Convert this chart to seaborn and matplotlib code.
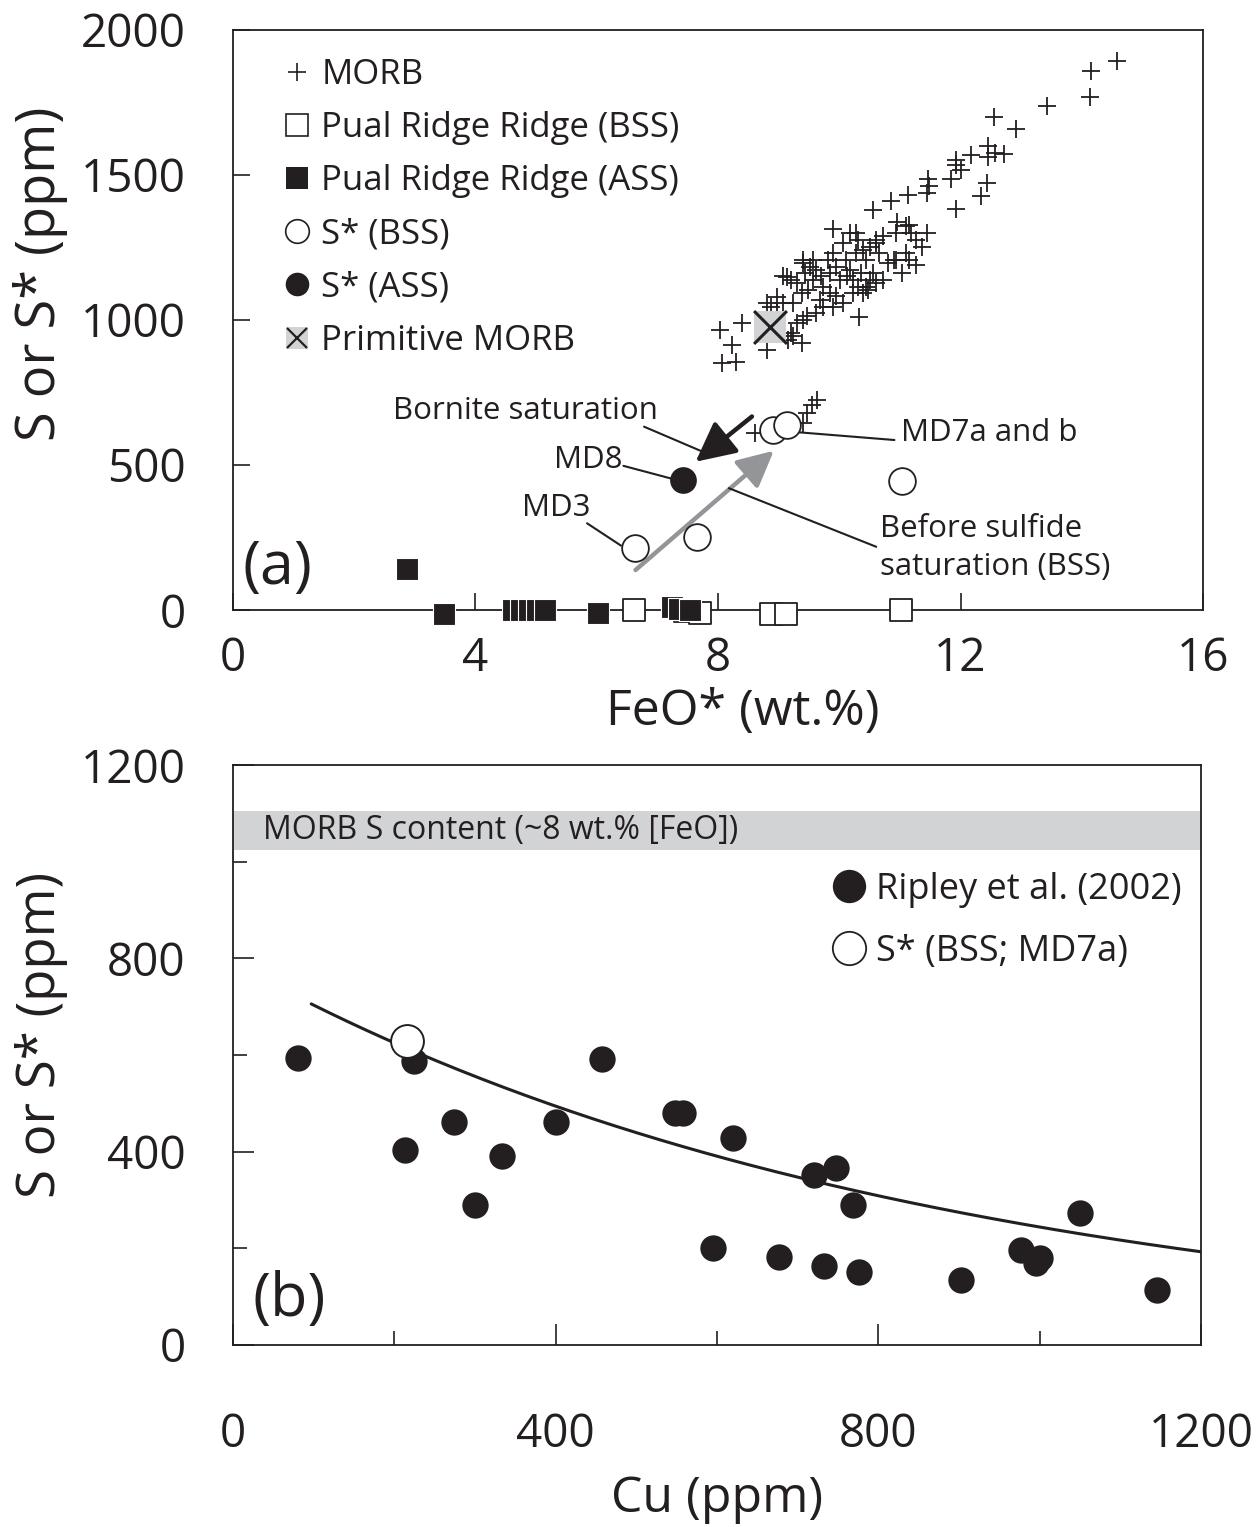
import numpy as np
import pandas as pd
import matplotlib
matplotlib.use('Agg')
import matplotlib.pyplot as plt
import seaborn as sns
from matplotlib.lines import Line2D
from matplotlib.legend_handler import HandlerTuple

sns.set_style('ticks')
plt.rcParams['font.family'] = ['Open Sans', 'DejaVu Sans']

DARK = '#231f20'
GREY = '#d1d3d4'
ARROW_GREY = '#939598'

# ---- panel (a): FeO* vs S ----
morb_feo = [14.58, 14.16, 14.13, 13.43, 12.56, 12.91, 12.46, 12.57, 12.71, 12.45,
            12.17, 11.93, 11.92, 12.00, 11.46, 11.48, 11.84, 12.44, 12.33, 11.93,
            11.44, 11.14, 10.85, 10.55, 9.90, 11.45, 10.28, 10.95, 11.15, 11.37,
            11.26, 11.04, 10.91, 10.61, 10.33, 9.40, 9.13, 8.97, 8.04, 8.23,
            8.07, 8.30, 8.39, 8.80, 9.24, 9.38, 9.40,
            9.08, 9.21, 9.30, 9.43, 9.51, 9.57, 9.62, 9.70, 9.73, 9.81,
            9.84, 9.90, 9.95, 10.01, 10.06, 10.11, 10.17, 10.22, 10.28, 10.31,
            10.36, 10.39, 10.44, 10.50, 10.55, 10.61, 10.66, 10.72, 9.84, 9.68,
            9.73, 9.62, 9.46, 9.30, 9.21, 9.16, 10.06, 9.95, 10.13, 9.49,
            9.38, 9.24, 9.90, 10.39, 10.47, 10.22, 9.57, 9.40, 9.08, 8.80,
            8.88, 8.97, 10.93, 11.10, 11.18, 11.26, 11.10, 10.93, 10.80, 11.15,
            10.17, 10.31, 10.50, 10.61, 10.72, 10.44,
            8.61, 9.40, 9.46, 9.55, 9.63]
morb_s = [1893, 1859, 1767, 1736, 1699, 1657, 1600, 1575, 1572, 1563,
          1569, 1552, 1534, 1515, 1485, 1460, 1485, 1471, 1428, 1382,
          1437, 1431, 1410, 1379, 1313, 1301, 1299, 1339, 1328, 1253,
          1190, 1161, 1207, 1276, 1011, 1207, 1149, 1080, 966, 914,
          853, 856, 989, 897, 943, 920, 1000,
          1150, 1138, 1127, 1161, 1184, 1138, 1173, 1150, 1115, 1207,
          1161, 1230, 1184, 1138, 1265, 1207, 1173, 1138, 1230, 1115,
          1161, 1242, 1115, 1138, 1161, 1127, 1230, 1138, 1092, 1069,
          1046, 1023, 1012, 989, 954, 931, 1058, 1081, 1150, 1104,
          1092, 1058, 1046, 1092, 1104, 1092, 1207, 1196, 1058, 1058,
          1046, 1023, 1299, 1322, 1299, 1276, 1230, 1207, 1196, 1207,
          1299, 1276, 1253, 1265, 1288, 1207,
          609, 644, 680, 705, 725]

pual_bss_feo = [6.62, 7.45, 7.70, 8.88, 9.12, 11.02]
pual_bss_s = [0, -5, -10, -15, -15, 0]
pual_ass_feo = [2.87, 3.48, 4.62, 4.75, 4.88, 5.02, 5.14, 6.02, 7.24, 7.36, 7.53]
pual_ass_s = [140, -15, 0, 0, 0, 0, 0, -10, 10, 5, 0]

sstar_bss_feo = [6.63, 7.66, 8.90, 9.13, 11.03]
sstar_bss_s = [213, 251, 621, 638, 446]
sstar_ass_feo = [7.43]
sstar_ass_s = [448]

prim_feo = [8.86]
prim_s = [977]

# ---- panel (b): Cu vs S ----
ripley_cu = [80, 224, 213, 274, 333, 300, 401, 458, 548, 558, 620, 595, 677,
             720, 748, 768, 733, 776, 903, 977, 1000, 996, 1050, 1145]
ripley_s = [594, 588, 403, 462, 392, 290, 462, 591, 479, 479, 428, 200, 183,
            351, 366, 290, 164, 152, 135, 196, 181, 170, 274, 113]
md7a_cu = [216]
md7a_s = [629]

# exponential trend: S = a * exp(-b * Cu)
fit_a, fit_b = 791.0, 0.001176
fit_cu_range = (97, 1200)
morb_band = (1025, 1105)

fig = plt.figure(figsize=(12.58, 15.27), dpi=100)
ax1 = fig.add_axes([0.1852, 0.6005, 0.7711, 0.3800])
ax2 = fig.add_axes([0.1852, 0.1192, 0.7695, 0.3798])

# panel (a) points
sns.scatterplot(x=morb_feo, y=morb_s, marker='+', s=160, color=DARK,
                linewidth=1.3, ax=ax1, zorder=3)
sns.scatterplot(x=prim_feo, y=prim_s, marker='s', s=560, color=GREY,
                linewidth=0, ax=ax1, zorder=4)
sns.scatterplot(x=prim_feo, y=prim_s, marker='x', s=560, color=DARK,
                linewidth=2.2, ax=ax1, zorder=5)
sns.scatterplot(x=pual_bss_feo, y=pual_bss_s, marker='s', s=270, color='white',
                edgecolor=DARK, linewidth=1.3, ax=ax1, zorder=4, clip_on=False)
sns.scatterplot(x=pual_ass_feo, y=pual_ass_s, marker='s', s=270, color=DARK,
                edgecolor='white', linewidth=0.8, ax=ax1, zorder=5, clip_on=False)
sns.scatterplot(x=sstar_bss_feo, y=sstar_bss_s, marker='o', s=370, color='white',
                edgecolor=DARK, linewidth=1.3, ax=ax1, zorder=4)
sns.scatterplot(x=sstar_ass_feo, y=sstar_ass_s, marker='o', s=370, color=DARK,
                linewidth=0, ax=ax1, zorder=4)

ax1.set_xlim(0, 16)
ax1.set_ylim(0, 2000)
ax1.set_xticks([0, 4, 8, 12, 16])
ax1.set_yticks([0, 500, 1000, 1500, 2000])
ax1.tick_params(direction='in', length=12, width=1.2, labelsize=33, color=DARK)
ax1.tick_params(axis='x', pad=19)
ax1.tick_params(axis='y', pad=34)
ax1.set_xlabel('FeO* (wt.%)', fontsize=36, labelpad=4, color=DARK)
ax1.set_ylabel('S or S* (ppm)', fontsize=39, labelpad=9, color=DARK)
ax1.xaxis.label.set_x(0.526)
ax1.yaxis.label.set_y(0.58)

# arrows
ax1.annotate('', xy=(7.63, 511), xytext=(8.56, 667),
             arrowprops=dict(arrowstyle='-|>,head_length=1.1,head_width=0.55',
                             mutation_scale=22, lw=3.2, color=DARK,
                             shrinkA=0, shrinkB=0), zorder=6)
ax1.annotate('', xy=(8.92, 549), xytext=(6.64, 138),
             arrowprops=dict(arrowstyle='-|>,head_length=1.0,head_width=0.5',
                             mutation_scale=22, lw=3.2, color=ARROW_GREY,
                             shrinkA=0, shrinkB=0), zorder=2)

# leader lines
leaders = [((6.78, 632), (7.71, 549)),
           ((6.44, 497), (7.25, 452)),
           ((5.84, 299), (6.40, 222)),
           ((9.19, 615), (10.91, 586)),
           ((8.18, 420), (10.61, 218))]
for start, end in leaders:
    ax1.annotate('', xy=end, xytext=start,
                 arrowprops=dict(arrowstyle='-', lw=1.5, color=DARK,
                                 shrinkA=0, shrinkB=0), zorder=3)

lab_kw = dict(fontsize=22.5, color=DARK, va='center')
ax1.text(7.0, 686, 'Bornite saturation', ha='right', **lab_kw)
ax1.text(6.43, 517, 'MD8', ha='right', **lab_kw)
ax1.text(5.89, 352, 'MD3', ha='right', **lab_kw)
ax1.text(11.02, 610, 'MD7a and b', ha='left', **lab_kw)
ax1.text(10.67, 214, 'Before sulfide\nsaturation (BSS)', ha='left',
         linespacing=1.38, **lab_kw)
ax1.text(0.01, 0.072, '(a)', transform=ax1.transAxes, fontsize=44,
         color=DARK, va='center', ha='left')

handles_a = [
    Line2D([], [], ls='', marker='+', ms=13, mew=1.2, color=DARK),
    Line2D([], [], ls='', marker='s', ms=16, mew=1.2, mfc='white', mec=DARK),
    Line2D([], [], ls='', marker='s', ms=16, mew=0, mfc=DARK),
    Line2D([], [], ls='', marker='o', ms=17, mew=1.2, mfc='white', mec=DARK),
    Line2D([], [], ls='', marker='o', ms=17, mew=0, mfc=DARK),
    (Line2D([], [], ls='', marker='s', ms=16, mew=0, mfc=GREY),
     Line2D([], [], ls='', marker='x', ms=15, mew=1.6, color=DARK)),
]
labels_a = ['MORB', 'Pual Ridge Ridge (BSS)', 'Pual Ridge Ridge (ASS)',
            'S* (BSS)', 'S* (ASS)', 'Primitive MORB']
ax1.legend(handles_a, labels_a, loc='upper left', bbox_to_anchor=(0.05, 0.951),
           frameon=False, fontsize=25, handlelength=0.9, handletextpad=0.25,
           labelspacing=0.55, borderpad=0, borderaxespad=0,
           handler_map={tuple: HandlerTuple(ndivide=1, pad=0)},
           labelcolor=DARK)

# panel (b)
ax2.axhspan(*morb_band, color=GREY, lw=0, zorder=0)
ax2.text(37, sum(morb_band) / 2, 'MORB S content (~8 wt.% [FeO])',
         fontsize=23, color=DARK, va='center', ha='left')

fit_cu = np.linspace(*fit_cu_range, 200)
fit_s = fit_a * np.exp(-fit_b * fit_cu)
sns.lineplot(x=fit_cu, y=fit_s, color=DARK, lw=2.2, ax=ax2, zorder=3)
sns.scatterplot(x=ripley_cu, y=ripley_s, marker='o', s=360, color=DARK,
                linewidth=0, ax=ax2, zorder=4)
sns.scatterplot(x=md7a_cu, y=md7a_s, marker='o', s=560, color='white',
                edgecolor=DARK, linewidth=1.4, ax=ax2, zorder=5)

ax2.set_xlim(0, 1200)
ax2.set_ylim(0, 1200)
ax2.set_xticks([0, 400, 800, 1200])
ax2.set_xticks([200, 600, 1000], minor=True)
ax2.set_yticks([0, 400, 800, 1200])
ax2.set_yticks([200, 600, 1000], minor=True)
ax2.tick_params(which='major', direction='in', length=15, width=1.2,
                labelsize=33, color=DARK)
ax2.tick_params(which='minor', direction='in', length=10, width=1.2, color=DARK)
ax2.tick_params(axis='x', which='major', pad=48)
ax2.tick_params(axis='y', which='major', pad=34)
ax2.set_xlabel('Cu (ppm)', fontsize=36, labelpad=12, color=DARK)
ax2.set_ylabel('S or S* (ppm)', fontsize=38, labelpad=9, color=DARK)
ax2.yaxis.label.set_y(0.535)
ax2.text(0.02, 0.078, '(b)', transform=ax2.transAxes, fontsize=44,
         color=DARK, va='center', ha='left')

handles_b = [
    Line2D([], [], ls='', marker='o', ms=24, mew=0, mfc=DARK),
    Line2D([], [], ls='', marker='o', ms=24, mew=1.3, mfc='white', mec=DARK),
]
ax2.legend(handles_b, ['Ripley et al. (2002)', 'S* (BSS; MD7a)'],
           loc='upper left', bbox_to_anchor=(0.62, 0.816), frameon=False,
           fontsize=26, handlelength=0.9, handletextpad=0.3, labelspacing=0.72,
           borderpad=0, borderaxespad=0, labelcolor=DARK)

for ax in (ax1, ax2):
    for sp in ax.spines.values():
        sp.set_linewidth(1.3)
        sp.set_color(DARK)
    for t in ax.get_xticklabels() + ax.get_yticklabels():
        t.set_color(DARK)

fig.savefig('out.png', dpi=100)
